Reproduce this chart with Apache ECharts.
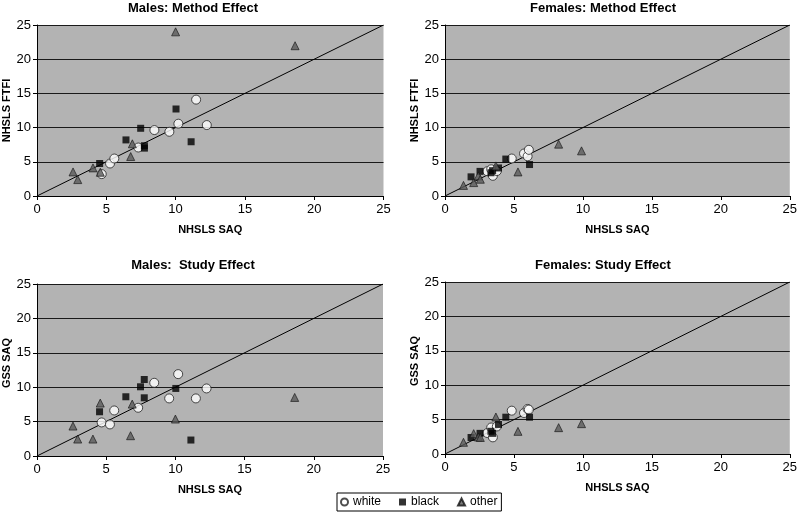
<!DOCTYPE html>
<html><head><meta charset="utf-8">
<script src="https://cdn.jsdelivr.net/npm/echarts@6/dist/echarts.min.js"></script>
<style>html,body{margin:0;padding:0;background:#fff}#c{width:800px;height:515px}</style>
</head><body><div id="c"></div>
<script>
// ---- data ----
const panelTitles = ['Males: Method Effect', 'Females: Method Effect', 'Males:  Study Effect', 'Females: Study Effect'];
const xAxisTitle = 'NHSLS SAQ';
const yAxisTitles = ['NHSLS FTFI', 'NHSLS FTFI', 'GSS SAQ', 'GSS SAQ'];
const groups = ['white', 'black', 'other'];
const axisTicks = [0, 5, 10, 15, 20, 25];
const diagonal = [0, 25];

// Males
const maleWhiteSAQ  = [4.67, 5.27, 5.58, 7.31, 8.47, 9.55, 10.2, 11.48, 12.25];
const maleWhiteFTFI = [3.2, 4.75, 5.48, 7.09, 9.64, 9.39, 10.57, 14.09, 10.37];
const maleWhiteGSS  = [4.88, 4.59, 6.62, 7.01, 10.64, 8.37, 11.9, 8.37, 9.82];

const maleBlackSAQ  = [4.52, 6.42, 7.48, 7.75, 7.75, 10.03, 11.12];
const maleBlackFTFI = [4.75, 8.2, 9.9, 7.0, 7.35, 12.72, 7.93];
const maleBlackGSS  = [6.43, 8.61, 10.06, 8.46, 11.12, 9.82, 2.32];

const maleOtherSAQ  = [2.6, 2.94, 4.04, 4.57, 6.88, 6.76, 10.0, 18.62];
const maleOtherFTFI = [3.52, 2.4, 4.11, 3.47, 7.63, 5.77, 24.0, 21.97];
const maleOtherGSS  = [4.35, 2.46, 2.46, 7.69, 7.54, 2.95, 5.37, 8.51];

// Females
const femWhiteSAQ  = [3.07, 3.35, 3.47, 3.76, 4.84, 5.73, 5.99, 6.08];
const femWhiteFTFI = [3.62, 3.9, 2.95, 3.65, 5.48, 6.21, 5.8, 6.75];
const femWhiteGSS  = [3.05, 3.85, 2.42, 4.0, 6.3, 5.96, 6.55, 6.45];

const femBlackSAQ  = [1.89, 2.54, 3.33, 3.45, 3.88, 4.41, 6.13];
const femBlackFTFI = [2.8, 3.6, 3.4, 3.7, 4.1, 5.4, 4.6];
const femBlackGSS  = [2.4, 3.0, 3.3, 3.0, 4.3, 5.35, 5.35];

const femOtherSAQ  = [1.34, 2.08, 2.42, 2.56, 3.69, 5.29, 8.24, 9.9];
const femOtherFTFI = [1.55, 1.96, 2.94, 2.45, 4.4, 3.52, 7.58, 6.6];
const femOtherGSS  = [1.7, 2.96, 2.47, 2.4, 5.38, 3.29, 3.83, 4.41];

// ---- build ----
const zip = (a, b) => a.map((v, i) => [v, b[i]]);
const panelData = [
  [zip(maleWhiteSAQ, maleWhiteFTFI), zip(maleBlackSAQ, maleBlackFTFI), zip(maleOtherSAQ, maleOtherFTFI)],
  [zip(femWhiteSAQ, femWhiteFTFI), zip(femBlackSAQ, femBlackFTFI), zip(femOtherSAQ, femOtherFTFI)],
  [zip(maleWhiteSAQ, maleWhiteGSS), zip(maleBlackSAQ, maleBlackGSS), zip(maleOtherSAQ, maleOtherGSS)],
  [zip(femWhiteSAQ, femWhiteGSS), zip(femBlackSAQ, femBlackGSS), zip(femOtherSAQ, femOtherGSS)]
];

const FONT = '"Liberation Sans", Arial, sans-serif';
const grids = [
  {left: 37, top: 25, width: 346.5, height: 171},
  {left: 445, top: 25, width: 348, height: 171},
  {left: 37, top: 284, width: 346, height: 172},
  {left: 445, top: 282, width: 348, height: 172}
];
const titleTops = [[193, 1], [603, 1], [193, 258], [603, 258]];

const markerStyles = [
  {symbol: 'circle', symbolSize: 9, itemStyle: {color: '#ffffff', borderColor: '#222', borderWidth: 1}},
  {symbol: 'rect', symbolSize: 7, itemStyle: {color: '#000000'}},
  {symbol: 'triangle', symbolSize: 8, itemStyle: {color: '#5a5a5a', borderColor: '#111', borderWidth: 0.8}}
];

const option = {
  animation: false,
  backgroundColor: '#ffffff',
  textStyle: {fontFamily: FONT},
  title: panelTitles.map((t, i) => ({
    text: t, left: titleTops[i][0], top: titleTops[i][1], textAlign: 'center', padding: 0,
    textStyle: {fontFamily: FONT, fontSize: 13, fontWeight: 'bold', color: '#000', lineHeight: 14}
  })),
  grid: grids.map(g => Object.assign({show: true, backgroundColor: '#b3b3b3', borderWidth: 0}, g)),
  xAxis: grids.map((g, i) => ({
    type: 'value', gridIndex: i, min: axisTicks[0], max: axisTicks[axisTicks.length - 1], interval: 5,
    name: xAxisTitle, nameLocation: 'middle', nameGap: 28,
    nameTextStyle: {fontFamily: FONT, fontSize: 11, fontWeight: 'bold', color: '#000'},
    axisLine: {show: true, lineStyle: {color: '#000', width: 1}},
    axisTick: {show: true, length: 4, lineStyle: {color: '#000'}},
    axisLabel: {fontFamily: FONT, fontSize: 13, color: '#000', margin: 7},
    splitLine: {show: false}
  })),
  yAxis: grids.map((g, i) => ({
    type: 'value', gridIndex: i, min: axisTicks[0], max: axisTicks[axisTicks.length - 1], interval: 5,
    name: yAxisTitles[i], nameLocation: 'middle', nameGap: 24,
    nameTextStyle: {fontFamily: FONT, fontSize: 11, fontWeight: 'bold', color: '#000',
                    padding: i >= 2 ? [0, 0, 0, 14] : 0},
    axisLine: {show: true, lineStyle: {color: '#000', width: 1}},
    axisTick: {show: true, length: 4, lineStyle: {color: '#000'}},
    axisLabel: {fontFamily: FONT, fontSize: 13, color: '#000', margin: 6},
    splitLine: {show: true, lineStyle: {color: '#1a1a1a', width: 1}}
  })),
  legend: {
    data: groups, left: 337, top: 493, orient: 'horizontal',
    backgroundColor: '#fff', borderColor: '#000', borderWidth: 1, borderRadius: 0,
    padding: [3, 4, 3, 3], itemGap: 18, itemWidth: 7, itemHeight: 7,
    textStyle: {fontFamily: FONT, fontSize: 12, color: '#000'}
  },
  series: []
};

for (let p = 0; p < 4; p++) {
  option.series.push({
    type: 'line', xAxisIndex: p, yAxisIndex: p, silent: true, symbol: 'none',
    data: [[diagonal[0], diagonal[0]], [diagonal[1], diagonal[1]]],
    lineStyle: {color: '#000', width: 1}, z: 2
  });
  for (let g = 0; g < 3; g++) {
    option.series.push(Object.assign({
      type: 'scatter', name: groups[g], xAxisIndex: p, yAxisIndex: p,
      data: panelData[p][g], z: 3 + g
    }, markerStyles[g]));
  }
}

const chart = echarts.init(document.getElementById('c'), null, {renderer: 'canvas'});
chart.setOption(option);
</script>
</body></html>
